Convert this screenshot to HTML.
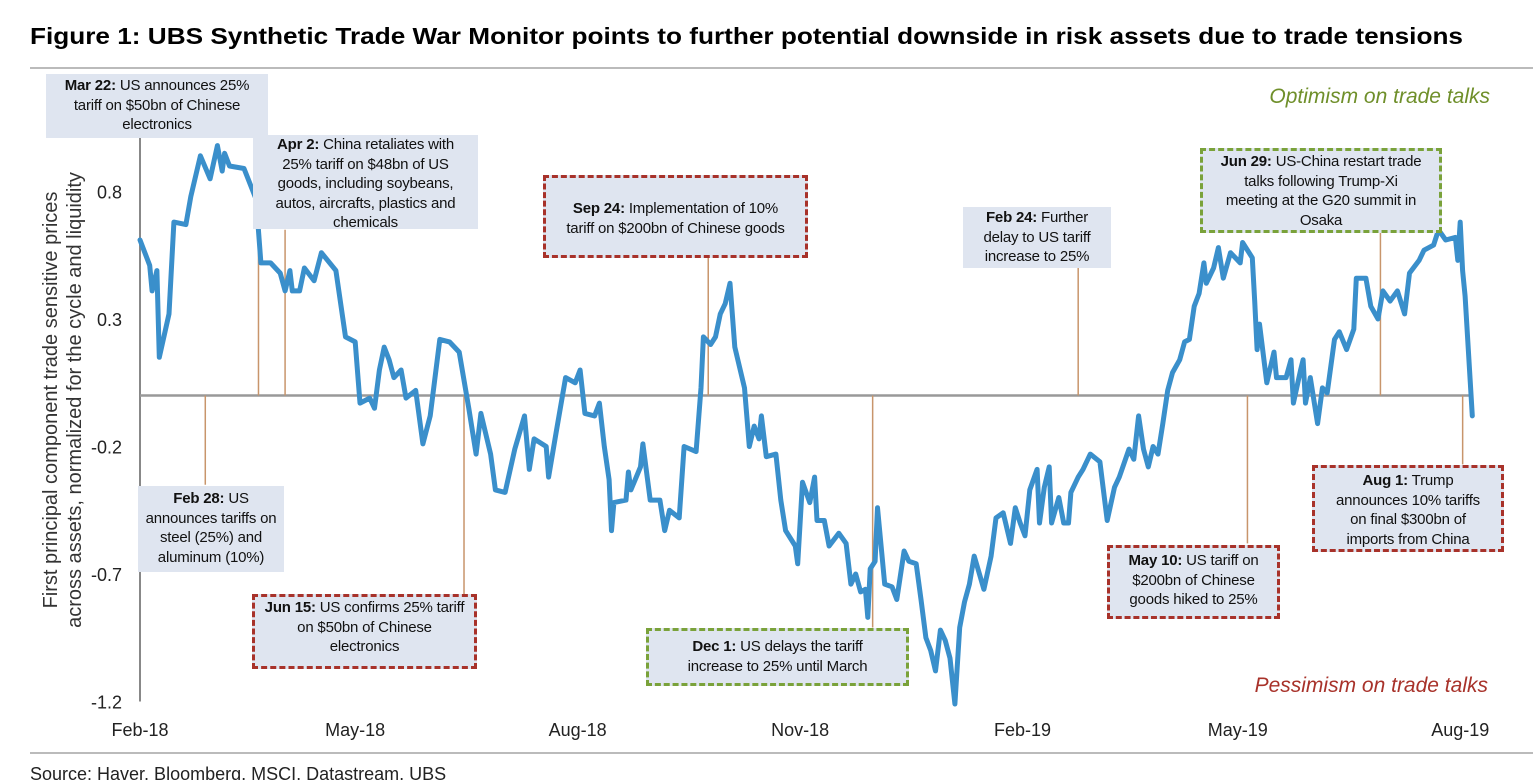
<!DOCTYPE html>
<html><head><meta charset="utf-8"><style>
body{margin:0;background:#fff;width:1533px;height:780px;overflow:hidden;position:relative;font-family:"Liberation Sans",sans-serif;}
.box{position:absolute;background:#dfe5f0;color:#111;font-size:15px;line-height:19.5px;text-align:center;box-sizing:border-box;padding:2px 0;white-space:nowrap;letter-spacing:-0.2px;}
.red{border:3px dashed #a8322a;}
.green{border:3px dashed #7aa23a;}
b{font-weight:bold;}
</style></head><body>
<svg id="chart" width="1533" height="780" style="position:absolute;left:0;top:0" xmlns="http://www.w3.org/2000/svg" font-family="Liberation Sans, sans-serif">
<text x="30" y="44" font-size="23" font-weight="bold" fill="#000" textLength="1433" lengthAdjust="spacingAndGlyphs">Figure 1: UBS Synthetic Trade War Monitor points to further potential downside in risk assets due to trade tensions</text>
<line x1="30" y1="68" x2="1533" y2="68" stroke="#bbb" stroke-width="2"/>
<line x1="30" y1="753" x2="1533" y2="753" stroke="#bbb" stroke-width="2"/>
<text x="30" y="780" font-size="18" fill="#222">Source:  Haver, Bloomberg, MSCI, Datastream, UBS</text>
<g font-size="20" fill="#333" text-anchor="middle">
<text transform="translate(57,400) rotate(-90)">First principal component trade sensitive prices</text>
<text transform="translate(81,400) rotate(-90)">across assets, normalized for the cycle and liquidity</text>
</g>
<text x="1490" y="103" font-size="21" font-style="italic" fill="#6f8f2a" text-anchor="end">Optimism on trade talks</text>
<text x="1488" y="692" font-size="21" font-style="italic" fill="#a8322a" text-anchor="end">Pessimism on trade talks</text>
<g id="axes"></g>
<g id="events"></g>
<g id="series"></g>
</svg>

<div class="box" style="left:46px;top:74px;width:222px;height:64px;padding-top:2px;">
<b>Mar 22:</b> US announces 25%<br>tariff on $50bn of Chinese<br>electronics</div>
<div class="box" style="left:253px;top:135px;width:225px;height:94px;padding-top:0px;">
<b>Apr 2:</b> China retaliates with<br>25% tariff on $48bn of US<br>goods, including soybeans,<br>autos, aircrafts, plastics and<br>chemicals</div>
<div class="box red" style="left:543px;top:175px;width:265px;height:83px;padding-top:21px;">
<b>Sep 24:</b> Implementation of 10%<br>tariff on $200bn of Chinese goods</div>
<div class="box" style="left:963px;top:207px;width:148px;height:61px;padding-top:1px;">
<b>Feb 24:</b> Further<br>delay to US tariff<br>increase to 25%</div>
<div class="box green" style="left:1200px;top:148px;width:242px;height:85px;padding-top:1px;">
<b>Jun 29:</b> US-China restart trade<br>talks following Trump-Xi<br>meeting at the G20 summit in<br>Osaka</div>
<div class="box" style="left:138px;top:486px;width:146px;height:86px;padding-top:3px;">
<b>Feb 28:</b> US<br>announces tariffs on<br>steel (25%) and<br>aluminum (10%)</div>
<div class="box red" style="left:252px;top:594px;width:225px;height:75px;padding-top:1px;">
<b>Jun 15:</b> US confirms 25% tariff<br>on $50bn of Chinese<br>electronics</div>
<div class="box green" style="left:646px;top:628px;width:263px;height:58px;padding-top:6px;">
<b>Dec 1:</b> US delays the tariff<br>increase to 25% until March</div>
<div class="box red" style="left:1107px;top:545px;width:173px;height:74px;padding-top:3px;">
<b>May 10:</b> US tariff on<br>$200bn of Chinese<br>goods hiked to 25%</div>
<div class="box red" style="left:1312px;top:465px;width:192px;height:87px;padding-top:3px;">
<b>Aug 1:</b> Trump<br>announces 10% tariffs<br>on final $300bn of<br>imports from China</div>

<script>
// days since 1 Feb 2018
const days=[0,4,5,7,8,12,14,19,21,25,29,32,34,35,37,43,48,50,54,58,60,62,63,66,68,72,75,81,85,89,91,95,97,99,101,103,105,108,110,114,117,120,124,128,132,136,139,141,145,147,151,155,159,161,163,168,169,172,176,180,182,184,188,190,192,194,195,196,201,202,203,207,208,211,215,217,219,223,225,230,232,233,236,238,240,242,244,246,250,252,254,256,257,259,263,265,267,271,272,274,277,279,280,283,285,289,292,294,296,298,300,301,302,304,305,308,311,313,316,318,321,323,325,327,329,331,333,335,337,339,341,343,345,349,352,354,357,360,362,364,366,368,371,372,374,376,377,380,382,384,385,388,390,393,397,400,403,405,409,411,413,415,417,419,421,423,425,427,430,432,434,436,438,440,441,444,446,448,451,455,456,460,461,462,463,466,469,470,474,476,477,480,481,482,484,487,489,491,494,496,499,502,503,507,509,512,514,517,520,523,525,529,531,535,537,540,544,545,546,547,548,551];
const values=[0.61,0.51,0.41,0.49,0.15,0.32,0.68,0.67,0.78,0.94,0.85,0.98,0.88,0.95,0.90,0.89,0.77,0.52,0.52,0.48,0.41,0.49,0.41,0.41,0.50,0.45,0.56,0.49,0.23,0.21,-0.03,-0.01,-0.05,0.10,0.19,0.14,0.07,0.10,-0.01,0.02,-0.19,-0.08,0.22,0.21,0.17,-0.05,-0.23,-0.07,-0.23,-0.37,-0.38,-0.21,-0.08,-0.29,-0.17,-0.20,-0.32,-0.15,0.07,0.05,0.10,-0.07,-0.08,-0.03,-0.20,-0.33,-0.53,-0.42,-0.41,-0.30,-0.37,-0.28,-0.19,-0.41,-0.41,-0.53,-0.45,-0.48,-0.20,-0.22,0.03,0.23,0.20,0.23,0.32,0.36,0.44,0.19,0.03,-0.20,-0.12,-0.17,-0.08,-0.24,-0.23,-0.41,-0.53,-0.59,-0.66,-0.34,-0.42,-0.32,-0.49,-0.49,-0.59,-0.54,-0.58,-0.74,-0.70,-0.77,-0.76,-0.87,-0.68,-0.65,-0.44,-0.74,-0.75,-0.80,-0.61,-0.65,-0.66,-0.80,-0.95,-1.00,-1.08,-0.92,-0.96,-1.03,-1.21,-0.91,-0.81,-0.74,-0.63,-0.76,-0.63,-0.48,-0.46,-0.58,-0.44,-0.50,-0.55,-0.37,-0.29,-0.50,-0.36,-0.28,-0.50,-0.40,-0.50,-0.50,-0.38,-0.32,-0.29,-0.23,-0.26,-0.49,-0.36,-0.32,-0.21,-0.25,-0.08,-0.21,-0.28,-0.20,-0.23,-0.11,0.02,0.09,0.14,0.21,0.22,0.35,0.40,0.52,0.44,0.50,0.58,0.46,0.56,0.52,0.60,0.54,0.37,0.18,0.28,0.05,0.17,0.07,0.07,0.14,-0.03,0.10,0.14,-0.03,0.07,-0.11,0.03,0.01,0.22,0.25,0.18,0.26,0.46,0.46,0.35,0.30,0.41,0.37,0.41,0.32,0.48,0.53,0.57,0.59,0.65,0.61,0.62,0.53,0.68,0.49,0.39,-0.08];
const yTicks=[0.8,0.3,-0.2,-0.7,-1.2];
const xTickLabels=["Feb-18","May-18","Aug-18","Nov-18","Feb-19","May-19","Aug-19"];
const xTickDays=[0,89,181,273,365,454,546];
const eventDays=[49,60,27,134,235,303,388,458,513,547];
const eventEnds=[0.97,0.65,-0.35,-0.78,0.54,-0.91,0.50,-0.58,0.64,-0.27];

const X=d=>140+d*2.418;
const Y=v=>395.5-v*255;
const NS="http://www.w3.org/2000/svg";
function mk(tag,parent,attrs){const e=document.createElementNS(NS,tag);for(const k in attrs)e.setAttribute(k,attrs[k]);parent.appendChild(e);return e;}
const axes=document.getElementById('axes'),events=document.getElementById('events'),series=document.getElementById('series');

const ya=mk('line',axes,{x1:X(0),x2:X(0),y1:75,y2:Y(-1.2),stroke:'#888','stroke-width':2});


const zl=mk('line',axes,{x1:X(0),x2:1470,y1:Y(0),y2:Y(0),stroke:'#999','stroke-width':2.5});


yTicks.forEach(v=>{
  const t=mk('text',axes,{x:122,y:Y(v)+7,'font-size':18,fill:'#222','text-anchor':'end'});
  t.textContent=v.toFixed(1);
  
  
});
xTickLabels.forEach((l,i)=>{
  const t=mk('text',axes,{x:X(xTickDays[i]),y:736,'font-size':18,fill:'#222','text-anchor':'middle'});
  t.textContent=l;
  
  
});
eventDays.forEach((d,i)=>{
  const e=mk('line',events,{x1:X(d),x2:X(d),y1:Y(0),y2:Y(eventEnds[i]),stroke:'#c8956b','stroke-width':1.5});
  
  
});
const pts=days.map((d,i)=>X(d).toFixed(1)+','+Y(values[i]).toFixed(1)).join(' ');
const p=mk('polyline',series,{points:pts,fill:'none',stroke:'#3a8fcb','stroke-width':5,'stroke-linejoin':'round','stroke-linecap':'round'});


</script>
</body></html>
